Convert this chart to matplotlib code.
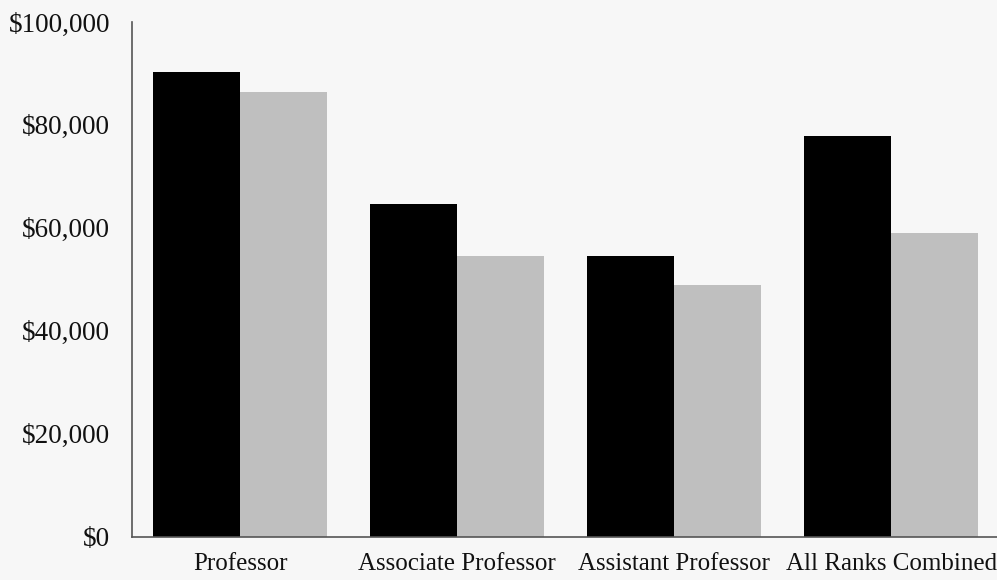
import matplotlib
matplotlib.use("Agg")
import matplotlib.pyplot as plt
import numpy as np
from matplotlib.ticker import FuncFormatter

categories = ["Professor", "Associate Professor", "Assistant Professor", "All Ranks Combined"]
series_a = [90200, 64600, 54450, 77850]
series_b = [86450, 54500, 48900, 59000]
yticks = [0, 20000, 40000, 60000, 80000, 100000]

plt.rcParams['font.family'] = ['Liberation Serif', 'DejaVu Serif']
bg = "#f7f7f7"
fig = plt.figure(figsize=(9.97, 5.8), dpi=100, facecolor=bg)
ax = fig.add_axes([131.5/997, 1-536.5/580, 1-131.5/997, (536.5-22)/580])
ax.set_facecolor(bg)

x = np.arange(len(categories))
w = 0.4
ax.bar(x - w/2, series_a, width=w, color="#000000")
ax.bar(x + w/2, series_b, width=w, color="#bfbfbf")

ax.set_xlim(-0.5, 3.488)
ax.set_ylim(0, 100000)
ax.set_yticks(yticks)
ax.yaxis.set_major_formatter(FuncFormatter(lambda v, p: "${:,.0f}".format(v)))
ax.set_xticks(x)
ax.set_xticklabels(categories)
ax.tick_params(axis='y', length=0, pad=15.5, labelsize=19.5, labelcolor="#111111")
ax.tick_params(axis='x', length=0, pad=12, labelsize=18, labelcolor="#111111")
for s in ["top", "right"]:
    ax.spines[s].set_visible(False)
for s in ["left", "bottom"]:
    ax.spines[s].set_color("#555555")
    ax.spines[s].set_linewidth(1.2)

fig.savefig("out.png", dpi=100, facecolor=bg)
